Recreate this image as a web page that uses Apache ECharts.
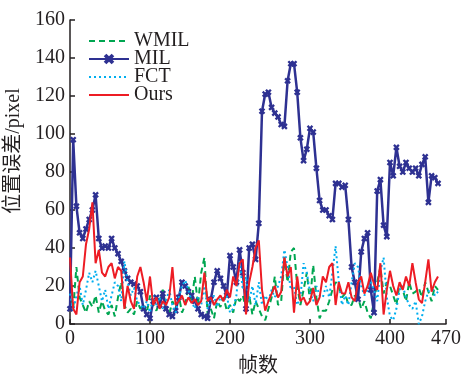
<!DOCTYPE html>
<html>
<head>
<meta charset="utf-8">
<script src="https://cdn.jsdelivr.net/npm/echarts@6/dist/echarts.min.js"></script>
<style>
  html, body { margin: 0; padding: 0; background: #fff; }
  #chart { width: 464px; height: 377px; }
</style>
</head>
<body>
<div id="chart"></div>
<script>
// sampled every 4 frames: 0, 4, 8, ... 460
const frameStep = 4;

const mil = [
  8, 97, 62, 48, 45, 50, 55, 60, 68, 45,
  40, 41, 40, 45, 40, 37, 33, 28, 24, 22,
  21, 20, 17, 8, 5, 3, 12, 14, 10, 16,
  8, 5, 4, 7, 14, 22, 20, 17, 15, 12,
  8, 5, 4, 3, 13, 22, 28, 24, 20, 15,
  36, 30, 22, 39, 27, 8, 40, 42, 34, 53,
  112, 121, 122, 114, 111, 109, 105, 104, 128, 137,
  137, 122, 98, 86, 92, 103, 101, 82, 65, 60,
  60, 57, 55, 74, 74, 72, 73, 55, 30, 22,
  13, 38, 45, 48, 18, 6, 70, 76, 52, 46,
  85, 78, 93, 83, 80, 85, 82, 80, 82, 78,
  84, 88, 64, 78, 77, 74
];

const wmil = [
  18, 8, 30, 14, 10, 6, 12, 9, 15, 6,
  12, 7, 5, 10, 4, 14, 22, 10, 6, 8,
  5, 12, 8, 10, 6, 15, 10, 7, 12, 18,
  9, 5, 12, 8, 15, 6, 10, 20, 12, 25,
  10, 27, 35, 5, 8, 3, 12, 9, 14, 7,
  10, 6, 14, 12, 15, 8, 15, 5, 12, 8,
  4, 2, 8, 14, 25, 10, 12, 35, 22, 38,
  40, 20, 10, 18, 27, 12, 31, 14, 3, 7,
  7, 12, 18, 22, 20, 14, 16, 10, 10, 15,
  14, 8, 12, 6, 3, 12, 22, 30, 16, 22,
  20, 15, 10, 21, 18, 12, 22, 16, 17, 19,
  14, 22, 17, 12, 20, 18
];

const fct = [
  16, 7, 15, 20, 10, 18, 27, 22, 28, 20,
  12, 18, 8, 15, 22, 20, 12, 33, 22, 15,
  19, 12, 10, 8, 12, 6, 15, 10, 14, 8,
  12, 18, 10, 6, 14, 20, 23, 18, 12, 8,
  14, 10, 20, 8, 12, 15, 9, 14, 12, 15,
  6, 8, 15, 33, 18, 25, 12, 20, 10, 22,
  10, 15, 12, 18, 14, 20, 25, 39, 30, 18,
  20, 10, 14, 32, 27, 17, 12, 20, 15, 14,
  20, 14, 27, 41, 22, 10, 15, 10, 22, 32,
  30, 20, 15, 18, 22, 18, 12, 28, 35, 14,
  4, 2, 8, 18, 20, 14, 10, 8, 12, 0,
  4, 12, 17, 20, 15, 17
];

const ours = [
  35, 8, 5, 22, 25, 42, 50, 64, 32, 39,
  27, 25, 30, 32, 24, 30, 28, 8, 20, 12,
  8, 25, 30, 22, 12, 25, 10, 14, 8, 12,
  10, 14, 30, 10, 12, 15, 10, 14, 11, 13,
  10, 12, 27, 12, 14, 10, 13, 15, 12, 18,
  14, 25, 20, 32, 34, 5, 22, 30, 40, 44,
  18, 7, 12, 16, 20, 14, 17, 35, 25, 30,
  6, 25, 12, 14, 10, 12, 19, 10, 14, 25,
  22, 30, 32, 10, 22, 16, 16, 22, 14, 12,
  22, 25, 16, 20, 27, 21, 18, 32, 5, 18,
  28, 20, 15, 22, 18, 25, 20, 32, 22, 13,
  11, 22, 34, 17, 22, 25
];

const seriesNames = ['WMIL', 'MIL', 'FCT', 'Ours'];
const xTicks = { min: 0, max: 470, interval: 100 };
const yTicks = { min: 0, max: 160, interval: 20 };

function pairs(arr) {
  return arr.map((v, i) => [i * frameStep, v]);
}

const serif = '"Liberation Serif", "Times New Roman", "Noto Sans CJK SC", serif';
const ink = '#231f20';

const chart = echarts.init(document.getElementById('chart'), null, { renderer: 'canvas' });

const axisCommon = {
  axisLine: { show: true, lineStyle: { color: ink, width: 1.5 } },
  axisTick: { show: true, inside: true, length: 5, lineStyle: { color: ink, width: 1.5 } },
  splitLine: { show: false },
  axisLabel: { color: ink, fontFamily: serif, fontSize: 20, margin: 5 }
};

const option = {
  animation: false,
  backgroundColor: '#fff',
  grid: { left: 70, right: 18, top: 20, bottom: 53, outerBoundsMode: 'none', containLabel: false },
  legend: {
    // only MIL keeps its marker in the legend
    data: seriesNames.map(n => n === 'MIL' ? { name: n } : { name: n, itemStyle: { opacity: 0 } }),
    orient: 'vertical',
    left: 83,
    top: 26,
    itemWidth: 40,
    itemHeight: 14,
    itemGap: -2,
    textStyle: { fontFamily: serif, fontSize: 20, color: ink, lineHeight: 18 }
  },
  xAxis: Object.assign({}, axisCommon, {
    type: 'value',
    min: xTicks.min,
    max: xTicks.max,
    interval: xTicks.interval,
    name: '帧数',
    nameLocation: 'middle',
    nameGap: 33,
    nameTextStyle: { fontFamily: serif, fontSize: 20, color: ink }
  }),
  yAxis: Object.assign({}, axisCommon, {
    type: 'value',
    min: yTicks.min,
    max: yTicks.max,
    interval: yTicks.interval,
    name: '位置误差/pixel',
    nameLocation: 'middle',
    nameGap: 42,
    nameTextStyle: { fontFamily: serif, fontSize: 20, color: ink, padding: [0, 0, 0, 42] }
  }),
  series: [
    {
      name: 'WMIL', type: 'line', data: pairs(wmil), symbol: 'none', z: 2,
      lineStyle: { color: '#00a651', width: 2, type: [6, 4] },
      itemStyle: { color: '#00a651' }
    },
    {
      name: 'MIL', type: 'line', data: pairs(mil), z: 3,
      symbol: 'path://M-1,-3H1V-1H3V1H1V3H-1V1H-3V-1H-1Z',
      symbolSize: 7, symbolRotate: 45, showAllSymbol: true,
      lineStyle: { color: '#2e3192', width: 2.5 },
      itemStyle: { color: '#2e3192', borderWidth: 0 }
    },
    {
      name: 'FCT', type: 'line', data: pairs(fct), symbol: 'none', z: 4,
      lineStyle: { color: '#00aeef', width: 2, type: [2, 3] },
      itemStyle: { color: '#00aeef' }
    },
    {
      name: 'Ours', type: 'line', data: pairs(ours), symbol: 'none', z: 5,
      lineStyle: { color: '#ed1c24', width: 2 },
      itemStyle: { color: '#ed1c24' }
    }
  ]
};

chart.setOption(option);
</script>
</body>
</html>
